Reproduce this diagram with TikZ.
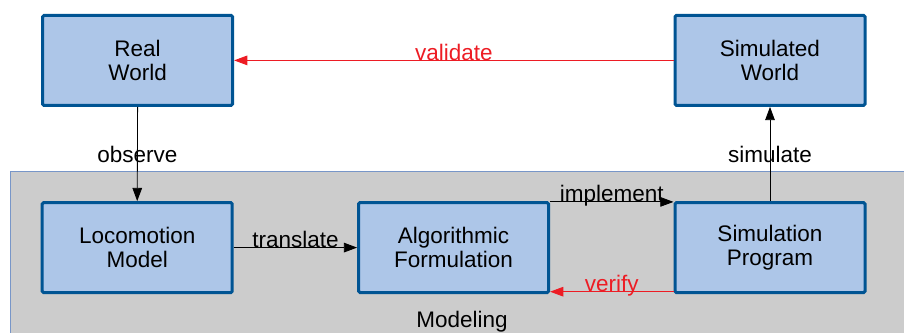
\documentclass[tikz,border=0pt]{standalone}
\usepackage{fontspec}
\setmainfont{Liberation Sans}
\usepackage{xcolor}
\usepackage{tikz}
\usetikzlibrary{arrows.meta, positioning}
\definecolor{boxfill}{RGB}{173,198,232}
\definecolor{boxline}{RGB}{0,84,147}
\definecolor{cred}{RGB}{237,28,36}
\definecolor{regionfill}{RGB}{204,204,204}
\definecolor{regionline}{RGB}{120,150,200}

\begin{document}
\begin{tikzpicture}[
    >={Triangle[length=3.3mm, width=2.4mm]},
    stagebox/.style={draw=boxline, fill=boxfill, line width=0.75mm, rounded corners=1pt,
        minimum width=4.75cm, minimum height=2.25cm, align=center,
        font=\fontsize{16}{17}\selectfont},
    link/.style={->, line width=0.6pt},
    lbl/.style={font=\fontsize{16}{17}\selectfont, inner sep=0pt},
]
    \useasboundingbox (0,0) rectangle (22.6,-8.325);

    % Modeling region
    \draw[regionline, fill=regionfill, line width=0.5pt] (0.25,-4.275) rectangle (23,-8.6);
    \node[lbl, anchor=base] (modeling) at (11.55,-8.2) {Modeling};

    % top row
    \node[stagebox] (rw) at (3.44,-1.51) {Real\\World};
    \node[stagebox] (sw) at (19.25,-1.51) {Simulated\\World};

    % bottom row
    \node[stagebox] (lm) at (3.43,-6.19) {Locomotion\\Model};
    \node[stagebox] (af) at (11.34,-6.19) {Algorithmic\\Formulation};
    \node[stagebox] (sp) at (19.25,-6.19) {Simulation\\Program};

    % connectors
    \draw[link, cred] (sw.west) -- (rw.east)
        node[lbl, midway, anchor=base, cred] {validate};
    \draw[link] (rw.south) -- (lm.north)
        node[lbl, midway] {observe};
    \draw[link] (lm.east) -- (af.west)
        node[lbl, midway, anchor=base] {translate};
    \draw[link] ([yshift=-0.02cm]af.north east) -- ([yshift=-0.02cm]sp.north west)
        node[lbl, midway, anchor=base] {implement};
    \draw[link, cred] ([yshift=0.06cm]sp.south west) -- ([yshift=0.06cm]af.south east)
        node[lbl, midway, anchor=base, cred] {verify};
    \draw[link] (sp.north) -- (sw.south)
        node[lbl, midway] {simulate};
\end{tikzpicture}
\end{document}
